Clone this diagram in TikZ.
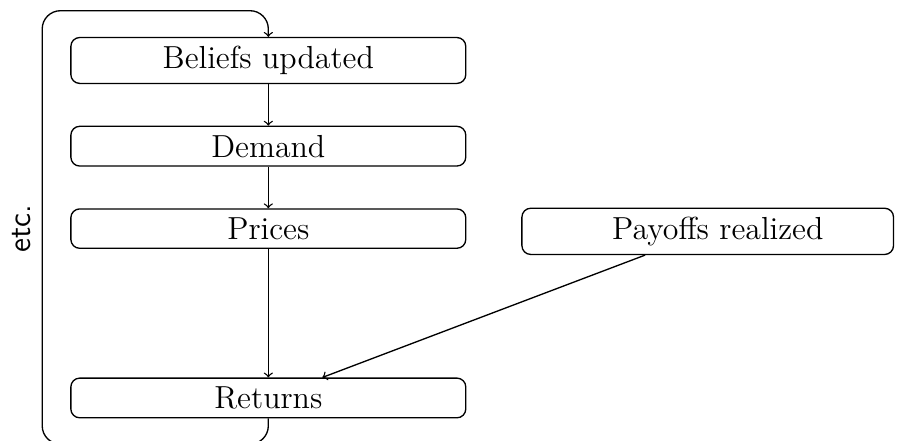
\documentclass[tikz,border=0pt]{standalone}
\usetikzlibrary{positioning}

\tikzset{stage/.style={draw, rounded corners, minimum width=6.27cm, inner ysep=3.9pt, font=\Large}}

\begin{document}
\begin{tikzpicture}[>=to, semithick]
\useasboundingbox (0,0) rectangle (14.40,7.0);

\node[stage] (beliefs) at (4.26,6.04) {Beliefs updated};
\node[stage, below=0.66cm of beliefs] (demand) {Demand};
\node[stage, below=0.66cm of demand] (prices) {Prices};
\node[stage, below=2.04cm of prices] (returns) {Returns};
\node[stage, minimum width=5.90cm, base right=0.87cm of prices] (payoffs) {\hspace*{0.32cm}Payoffs realized};
\node[rotate=90, font=\Large\sffamily] (etc) at (0.35,3.37) {etc.};

\draw[->] (beliefs) -- (demand);
\draw[->] (demand) -- (prices);
\draw[->] (prices) -- (returns);
\draw[->] (payoffs) -- (returns);

% loop back to the top
\coordinate (bl) at (0.67,-0.05);
\coordinate (tl) at (0.67,6.83);
\draw[->, rounded corners=0.29cm] (returns.south) |- (bl) -- (tl) -| (beliefs.north);
\end{tikzpicture}
\end{document}
